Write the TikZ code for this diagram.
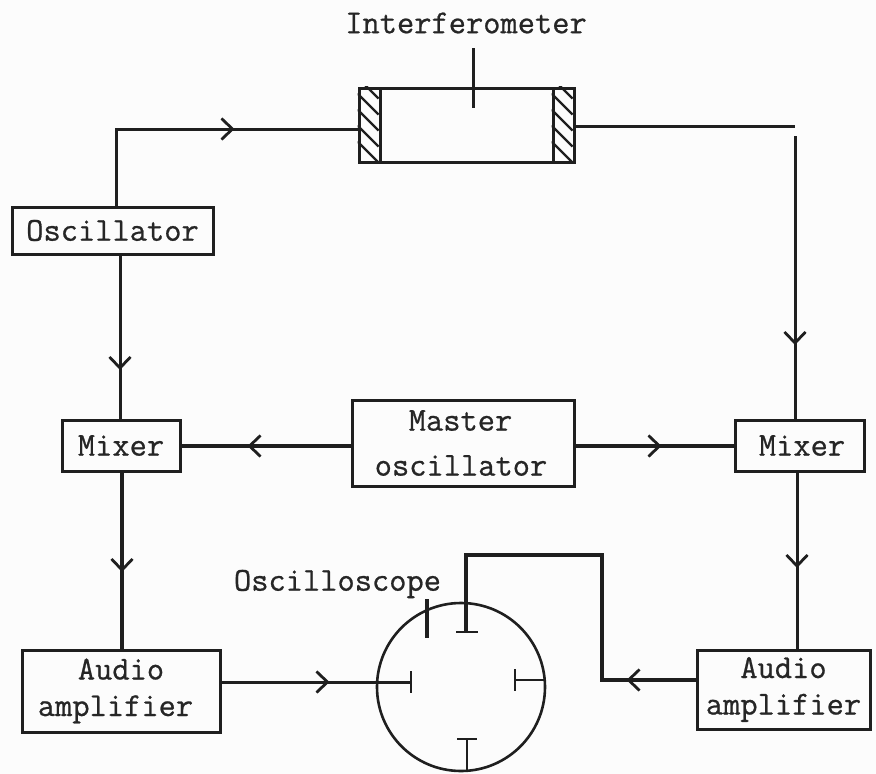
\documentclass[tikz,border=0pt]{standalone}
\usepackage{fontspec}
\setmonofont[FakeBold=0.7]{Latin Modern Mono}
\usetikzlibrary{arrows.meta,decorations.markings,calc}
\definecolor{paper}{gray}{0.99}
\tikzset{
  ink/.style={draw=black!88},
  blockbox/.style={ink,line width=3pt,rectangle,inner sep=0pt,align=center,
    font=\fontsize{33.5}{45}\selectfont\ttfamily,text=black!85},
  tightlines/.style={font=\fontsize{33.5}{36.5}\selectfont\ttfamily},
  lbl/.style={inner sep=0pt,font=\fontsize{33.5}{45}\selectfont\ttfamily,text=black!85},
  conn/.style={ink,line width=3pt},
  heavy/.style={ink,line width=3.3pt},
  plate/.style={ink,line width=2.8pt},
  flowtip/.style={postaction={decorate,decoration={markings,
    mark=at position #1 with {\arrow[black!88,line width=2.8pt]{Straight Barb[length=11pt,width=21pt]}}}}}
}
\begin{document}
\begin{tikzpicture}[x=1pt,y=-1pt]
\useasboundingbox (0,0) rectangle (876,774);
\fill[paper] (0,0) rectangle (876,774);
% Blocks
\node[blockbox,minimum width=201pt,minimum height=47pt] (osc) at (112.5,230.5) {Oscillator};
\node[blockbox,minimum width=118pt,minimum height=51pt] (mixl) at (121,445.5) {Mixer};
\node[blockbox,minimum width=129pt,minimum height=51pt] (mixr) at (799.5,445.5) {\hspace*{5pt}Mixer};
\node[blockbox,minimum width=222pt,minimum height=86pt] (master) at (463,443) {Master\hspace*{5pt}\\oscillator\hspace*{4pt}};
\node[blockbox,tightlines,minimum width=198pt,minimum height=82pt] (audl) at (121,691) {Audio\\amplifier\hspace*{11pt}};
\node[blockbox,tightlines,minimum width=173pt,minimum height=79pt] (audr) at (783.5,689.5) {Audio\\amplifier};
% Interferometer
\node[blockbox,minimum width=215pt,minimum height=74pt] (ifm) at (466.5,125) {};
\node[lbl] (ifmlabel) at (466,23) {Interferometer};
\coordinate (probetop) at (473,48);
\coordinate (probeend) at (473,108);
\draw[conn] (probetop) -- (probeend);
\node[ink,line width=3pt,rectangle,inner sep=0pt,minimum width=21pt,minimum height=74pt] (mirl) at (369.5,125) {};
\node[ink,line width=3pt,rectangle,inner sep=0pt,minimum width=21pt,minimum height=74pt] (mirr) at (563.5,125) {};
\begin{scope}
  \clip (mirl.south west) rectangle (mirl.north east);
  \foreach \d in {-9,7,23,39,55}
    \draw[ink,line width=2.2pt] ($(mirl.north west)+(0,\d)$) -- ++(21,21);
\end{scope}
\begin{scope}
  \clip (mirr.south west) rectangle (mirr.north east);
  \foreach \d in {-9,7,23,39,55}
    \draw[ink,line width=2.2pt] ($(mirr.north west)+(0,\d)$) -- ++(21,21);
\end{scope}
% Oscilloscope
\node[ink,line width=2.6pt,circle,inner sep=0pt,minimum size=168pt] (scope) at (461,687) {};
\node[lbl] (scopelabel) at (337.5,584) {Oscilloscope};
% Junctions
\coordinate (oscturn) at (116,129);
\coordinate (ifmout) at (795,126);
\coordinate (rtop) at (795,136);
\coordinate (topplate) at (466,632);
\coordinate (leftplate) at (411,682);
\coordinate (rightplate) at (515,680);
\coordinate (bottomplate) at (467,739);
\coordinate (turn1) at (602,680);
\coordinate (turn2) at (602,555);
% Connectors
\draw[conn,flowtip=195pt] (oscturn |- osc.north) -- (oscturn) -- (oscturn -| mirl.west);
\draw[conn] (mirr.east |- ifmout) -- (ifmout);
\draw[conn,flowtip=209pt] (rtop) -- (rtop |- mixr.north);
\draw[conn,flowtip=116pt] (120,254) -- (120,420);
\draw[heavy,flowtip=103pt] (master.west |- 0,446) -- (mixl.east |- 0,446);
\draw[heavy,flowtip=86pt] (master.east |- 0,446) -- (mixr.west |- 0,446);
\draw[heavy,flowtip=101pt] (122,471) -- (122,650);
\draw[conn,flowtip=97pt] (797,471) -- (797,650);
\draw[conn,flowtip=108pt] (audl.east |- leftplate) -- (leftplate);
\draw[heavy,flowtip=69pt] (audr.west |- turn1) -- (turn1) -- (turn2) -- (turn2 -| topplate) -- (topplate);
\draw[plate] (rightplate) -- (rightplate -| scope.east);
\draw[plate] (bottomplate) -- (bottomplate |- scope.south);
% Deflection plates
\draw[plate] ($(leftplate)+(0,-11)$) -- ($(leftplate)+(0,11)$);
\draw[plate] ($(rightplate)+(0,-11)$) -- ($(rightplate)+(0,11)$);
\draw[plate] ($(topplate)+(-10,0)$) -- ($(topplate)+(12,0)$);
\draw[plate] ($(bottomplate)+(-10,0)$) -- ($(bottomplate)+(10,0)$);
\draw[heavy] (427,599) -- (427,638);
\end{tikzpicture}
\end{document}
